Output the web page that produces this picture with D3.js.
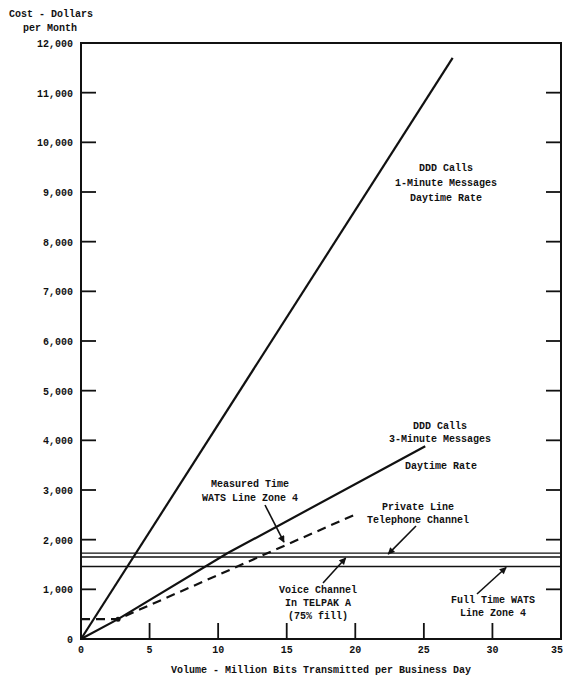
<!DOCTYPE html>
<html>
<head>
<meta charset="utf-8">
<script src="https://cdn.jsdelivr.net/npm/d3@7"></script>
<style>
  html, body { margin: 0; padding: 0; background: #fff; }
  svg text { font-family: "Liberation Mono", "DejaVu Sans Mono", monospace; font-size: 10px; font-weight: bold; fill: #111; }
</style>
</head>
<body>
<svg id="chart" width="564" height="678"></svg>
<script>
// Axis ticks
const xTicks = [0, 5, 10, 15, 20, 25, 30, 35];
const yTicks = [0, 1000, 2000, 3000, 4000, 5000, 6000, 7000, 8000, 9000, 10000, 11000, 12000];

// Cost curves: [volume, dollars per month]
const dddOneMinute = [[0, 0], [27.1, 11700]];
const dddThreeMinute = [[0, 0], [2.7, 400], [10.7, 1730], [25.1, 3880]];
const measuredWats = [[0, 400], [2.7, 400], [20.1, 2520]];

// Flat monthly costs
const privateLine = 1730;
const voiceTelpak = 1650;
const fullTimeWats = 1460;

const svg = d3.select("#chart");
const x = d3.scaleLinear().domain([0, 35]).range([81, 561]);
const y = d3.scaleLinear().domain([0, 12000]).range([639, 43]);

const ink = "#111";

// Frame
svg.append("rect")
  .attr("x", x(0)).attr("y", y(12000))
  .attr("width", x(35) - x(0)).attr("height", y(0) - y(12000))
  .attr("fill", "none").attr("stroke", ink).attr("stroke-width", 2);

// Inward ticks on left and right
const tickLen = 15;
const yInner = yTicks.filter(v => v > 0 && v < 12000);
svg.append("g").selectAll("line").data(yInner).join("line")
  .attr("x1", x(0)).attr("x2", x(0) + tickLen)
  .attr("y1", d => y(d)).attr("y2", d => y(d))
  .attr("stroke", ink).attr("stroke-width", 1.8);
svg.append("g").selectAll("line").data(yInner).join("line")
  .attr("x1", x(35)).attr("x2", x(35) - tickLen)
  .attr("y1", d => y(d)).attr("y2", d => y(d))
  .attr("stroke", ink).attr("stroke-width", 1.8);
// Inward ticks on the bottom
const xInner = xTicks.filter(v => v > 0 && v < 35);
svg.append("g").selectAll("line").data(xInner).join("line")
  .attr("x1", d => x(d)).attr("x2", d => x(d))
  .attr("y1", y(0)).attr("y2", y(0) - 16)
  .attr("stroke", ink).attr("stroke-width", 1.8);

// Tick labels
const fmt = d3.format(",");
svg.append("g").selectAll("text").data(yTicks).join("text")
  .attr("x", 73).attr("y", d => y(d) + 4)
  .attr("text-anchor", "end")
  .text(d => fmt(d));
// the last label sits against the page edge, so it is right-aligned there
svg.append("g").selectAll("text").data(xTicks).join("text")
  .attr("x", d => d === 35 ? 563 : x(d)).attr("y", y(0) + 14)
  .attr("text-anchor", d => d === 35 ? "end" : "middle")
  .text(d => d);

// Axis titles
svg.append("text").attr("x", 9).attr("y", 17).text("Cost - Dollars");
svg.append("text").attr("x", 23).attr("y", 31).text("per Month");
svg.append("text").attr("x", 321).attr("y", 673).attr("text-anchor", "middle")
  .text("Volume - Million Bits Transmitted per Business Day");

// Flat cost lines
[privateLine, voiceTelpak, fullTimeWats].forEach(v => {
  svg.append("line")
    .attr("x1", x(0)).attr("x2", x(35))
    .attr("y1", y(v)).attr("y2", y(v))
    .attr("stroke", ink).attr("stroke-width", 1.4);
});

const line = d3.line().x(d => x(d[0])).y(d => y(d[1]));
svg.append("path").datum(dddOneMinute).attr("d", line)
  .attr("fill", "none").attr("stroke", ink).attr("stroke-width", 2.2);
svg.append("path").datum(dddThreeMinute).attr("d", line)
  .attr("fill", "none").attr("stroke", ink).attr("stroke-width", 2.2);
svg.append("path").datum(measuredWats).attr("d", line)
  .attr("fill", "none").attr("stroke", ink).attr("stroke-width", 2.2)
  .attr("stroke-dasharray", "9,6");
// Break point marker
svg.append("circle").attr("cx", x(2.7)).attr("cy", y(400)).attr("r", 2.5).attr("fill", ink);

// Arrow marker
svg.append("defs").append("marker")
  .attr("id", "head").attr("viewBox", "0 0 10 10")
  .attr("refX", 9).attr("refY", 5)
  .attr("markerWidth", 9).attr("markerHeight", 7)
  .attr("markerUnits", "userSpaceOnUse")
  .attr("orient", "auto")
  .append("path").attr("d", "M0,0 L10,5 L0,10 Z").attr("fill", ink);

function arrow(x1, y1, x2, y2) {
  svg.append("line")
    .attr("x1", x1).attr("y1", y1).attr("x2", x2).attr("y2", y2)
    .attr("stroke", ink).attr("stroke-width", 1.6)
    .attr("marker-end", "url(#head)");
}

function label(cx, cy, lines, step) {
  const t = svg.append("text").attr("text-anchor", "middle");
  lines.forEach((s, i) => {
    t.append("tspan").attr("x", cx).attr("y", cy + i * (step || 13)).text(s);
  });
}

label(446, 171, ["DDD Calls", "1-Minute Messages", "Daytime Rate"], 15);
label(440, 429, ["DDD Calls", "3-Minute Messages"]);
label(441, 469, ["Daytime Rate"]);
label(250, 487, ["Measured Time", "WATS Line Zone 4"], 14);
arrow(265, 505, x(14.8), y(1950));
label(418, 510, ["Private Line", "Telephone Channel"]);
arrow(416, 526, x(22.4), y(privateLine) + 1);
label(318, 593, ["Voice Channel", "In TELPAK A", "(75% fill)"]);
arrow(323, 583, x(19.3), y(voiceTelpak) + 1);
label(493, 603, ["Full Time WATS", "Line Zone 4"]);
arrow(477, 594, x(31), y(fullTimeWats) + 1);
</script>
</body>
</html>
